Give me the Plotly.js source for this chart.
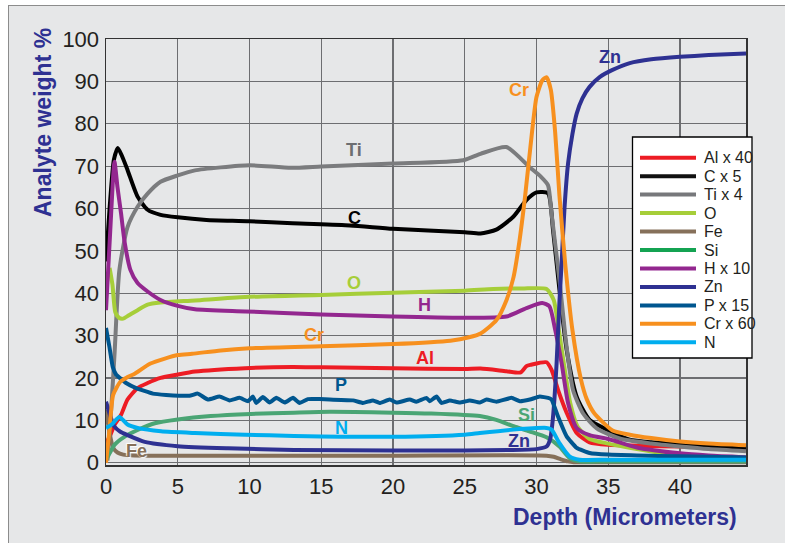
<!DOCTYPE html>
<html><head><meta charset="utf-8">
<script src="https://cdn.plot.ly/plotly-3.0.1.min.js"></script>
<style>
html,body{margin:0;padding:0;background:#fff;width:785px;height:543px;overflow:hidden;}
#frame{position:absolute;left:8px;top:5px;width:800px;height:560px;background:#e6e7e8;border-left:1.5px solid #8c8c8c;border-top:1.5px solid #8c8c8c;}
#chart{position:absolute;left:0;top:0;width:785px;height:543px;}
</style></head><body>
<div id="frame"></div><div id="chart"></div>
<script>
// ---- data (depth in micrometers, analyte weight %) ----
var Al_x = [0, 0.3, 0.6, 1.05, 1.5, 2.2, 2.9, 3.8, 5.0, 6.2, 9.7, 13, 15, 20, 25, 26.1, 27.9, 28.9, 29.3, 29.6, 30.7, 31.05, 31.5, 32.1, 32.8, 33.7, 35, 37, 40, 42, 44.6];
var Al_y = [4.5, 6.5, 9, 11.3, 14.9, 17.6, 18.8, 20, 20.8, 21.5, 22.3, 22.6, 22.5, 22.3, 22.1, 22.2, 21.6, 21.3, 22.8, 23.1, 23.7, 21.9, 17.2, 11.8, 7, 4.8, 4.2, 4.0, 3.8, 3.6, 3.3];

var C_x = [0, 0.25, 0.55, 0.82, 1.1, 1.5, 2.2, 2.9, 3.8, 5.0, 7, 10, 13, 17, 20, 25, 26.1, 27.2, 28.4, 29.3, 30.0, 30.8, 31.15, 31.6, 32.1, 32.8, 33.7, 35.4, 36.5, 38, 40, 42, 44.6];
var C_y = [47.5, 60, 71.5, 74.3, 72.5, 69.1, 62.8, 59.7, 58.5, 57.9, 57.3, 57.0, 56.5, 56.0, 55.2, 54.4, 54.1, 55, 58.1, 62, 63.8, 63.6, 55, 40.8, 26.7, 15.6, 10.1, 7, 5.4, 4.8, 4.4, 4.0, 3.5];

var Ti_x = [0.1, 0.35, 0.6, 0.93, 1.5, 2.2, 2.9, 3.8, 5.0, 6.2, 8, 10, 12.9, 15, 20, 24.9, 26.1, 27.9, 29.5, 30.3, 30.8, 31.05, 31.6, 32.1, 32.55, 33.25, 34.2, 35.8, 38, 40, 42, 44.6];
var Ti_y = [0.5, 12, 26, 45.4, 55.6, 60.4, 63.5, 66.3, 67.8, 69, 69.7, 70.2, 69.6, 69.9, 70.6, 71.4, 72.9, 74.5, 69.8, 67.5, 65.5, 58.8, 43.1, 27.3, 17.1, 11.6, 8.1, 5.7, 4.5, 3.8, 3.2, 2.7];

var O_x = [0.25, 0.45, 0.65, 0.9, 1.2, 1.6, 2.2, 2.9, 3.8, 6.2, 9.7, 15, 20, 25, 27, 29, 30.7, 31.2, 31.55, 31.9, 32.35, 32.85, 33.7, 35, 37, 40, 42, 44.6];
var O_y = [46, 42, 35.5, 34.2, 34.0, 34.8, 36, 37.3, 37.8, 38.3, 39.1, 39.6, 40.1, 40.6, 41.0, 41.1, 41.0, 38.4, 31.4, 23.5, 14.1, 8.6, 5.6, 4.5, 3.2, 1.6, 1.2, 0.9];

var Fe_x = [0, 0.25, 0.5, 0.8, 1.2, 2, 5, 10, 20, 30.7, 31.2, 31.7, 32.2, 32.6, 35, 40, 44.6];
var Fe_y = [12.5, 7, 3.5, 2.4, 1.9, 1.7, 1.65, 1.65, 1.65, 1.65, 1.4, 0.8, 0.3, 0.1, 0.1, 0.1, 0.1];

var Si_x = [0, 0.3, 0.59, 1.28, 2.2, 3.4, 5.0, 7.3, 10.1, 13.1, 15.6, 20, 22.6, 26.05, 27.2, 28.4, 29.5, 30.7, 31.6, 32.3, 33.0, 35, 40, 44.6];
var Si_y = [0.6, 2.5, 4.2, 6.1, 7.7, 9.3, 10.2, 11.0, 11.5, 11.8, 12.0, 11.8, 11.6, 11.0, 10.1, 8.6, 7.4, 6.0, 3.8, 1.1, 0.3, 0.3, 0.3, 0.3];

var H_x = [0, 0.3, 0.59, 0.8, 1.05, 1.3, 1.7, 2.2, 2.9, 3.8, 5.0, 6.2, 9.7, 15, 20, 25, 27.9, 29.3, 30.4, 30.9, 31.3, 31.75, 32.2, 32.8, 33.7, 35, 37, 40, 42, 44.6];
var H_y = [36, 55, 71, 65, 58.8, 52, 45.5, 42.4, 40.4, 38.4, 37, 36.2, 35.7, 35, 34.5, 34.2, 34.5, 36.5, 37.7, 36.9, 31.4, 23.5, 14.1, 8.2, 6.5, 5.6, 3.6, 2.2, 1.7, 1.3];

var Zn_x = [0, 0.3, 0.59, 1.0, 1.5, 2.7, 5.0, 8.5, 13.1, 20, 25, 28, 30, 30.7, 30.95, 31.1, 31.25, 31.4, 31.6, 31.75, 31.95, 32.2, 32.5, 32.8, 33.2, 33.7, 34.4, 35.3, 36.5, 38, 40, 42, 44.6];
var Zn_y = [14.4, 11, 8.5, 7.3, 6.5, 4.9, 3.9, 3.4, 3.0, 2.9, 2.9, 3.0, 3.2, 3.8, 5.5, 9, 15, 23.4, 38, 47.1, 60, 70.6, 77.5, 82.4, 86, 88.7, 91, 92.7, 94.3, 95.2, 95.8, 96.2, 96.6];

var P_x = [0, 0.24, 0.47, 0.7, 1.4, 2.1, 3.26, 4.19, 5.82, 6.4, 7.1, 7.91, 8.61, 9.31, 9.89, 10.23, 10.47, 10.93, 11.4, 11.87, 12.45, 13.03, 13.49, 14.07, 14.89, 15.59, 17.21, 17.91, 18.61, 19.07, 19.77, 20.24, 21.17, 21.63, 22.33, 22.56, 23.03, 23.38, 23.96, 24.65, 25.35, 26.05, 26.52, 27.21, 28.26, 28.84, 29.54, 30.23, 30.81, 31.05, 31.5, 32.1, 32.8, 33.7, 35, 37, 40, 42, 44.6];
var P_y = [31.8, 27.3, 22.6, 20.8, 18.8, 17.6, 16.3, 16.0, 15.8, 16.3, 14.9, 15.6, 14.7, 15.3, 14.5, 15.6, 14.1, 15.5, 14.2, 15.3, 14.2, 15.3, 14.1, 15.0, 15.0, 14.9, 14.7, 14.1, 14.7, 14.1, 14.9, 14.2, 14.9, 14.4, 15.3, 14.5, 15.6, 14.1, 14.7, 14.2, 14.7, 14.2, 14.9, 14.4, 15.3, 14.5, 14.9, 15.6, 15.3, 14.9, 10.9, 6.2, 3.5, 2.3, 1.9, 1.7, 1.5, 1.4, 1.2];

var Cr_x = [0, 0.25, 0.5, 1.0, 1.5, 2.0, 3.1, 5, 6, 8, 10, 15, 20, 24, 25.3, 26.1, 27.2, 27.9, 28.4, 28.8, 29.2, 29.7, 30.0, 30.4, 30.7, 31.0, 31.3, 31.6, 32.0, 32.5, 33.1, 33.5, 34.0, 35.3, 36.5, 38, 40, 42, 44.6];
var Cr_y = [0, 8, 16, 19.1, 20.2, 21, 23.4, 25.4, 25.7, 26.5, 27, 27.5, 28, 28.8, 29.6, 30.5, 33.6, 38.3, 43.8, 52, 62.7, 78.4, 86.3, 90.2, 91, 88, 78, 63, 47, 31.4, 19.6, 15, 11.8, 7.6, 6.6, 5.8, 5.0, 4.5, 4.1];

var N_x = [0, 0.4, 0.93, 1.5, 2.2, 3.84, 6.2, 9.7, 13.1, 15, 20, 25, 26.05, 28.4, 30.7, 31.05, 31.6, 32.3, 33.0, 35, 40, 44.6];
var N_y = [8.2, 9, 10.8, 9.0, 8.2, 7.4, 7.0, 6.6, 6.3, 6.2, 6.1, 6.6, 7.0, 7.8, 8.2, 7.8, 4.6, 1.5, 0.7, 0.7, 0.7, 0.7];

var seriesNames = ["Al x 40", "C x 5", "Ti x 4", "O", "Fe", "Si", "H x 10", "Zn", "P x 15", "Cr x 60", "N"];
var seriesX = [Al_x, C_x, Ti_x, O_x, Fe_x, Si_x, H_x, Zn_x, P_x, Cr_x, N_x];
var seriesY = [Al_y, C_y, Ti_y, O_y, Fe_y, Si_y, H_y, Zn_y, P_y, Cr_y, N_y];
var lineColors = ["#ed1c24", "#000000", "#7b7c7e", "#a6ce39", "#86705a", "#4aa574", "#93278f", "#2e3192", "#00568f", "#f7901e", "#00aeef"];
var legendColors = ["#ed1c24", "#111111", "#77787b", "#a6ce39", "#86705a", "#14a352", "#93278f", "#2e3192", "#00568f", "#f7901e", "#00aeef"];
var lineSmoothing = [0.6, 0.6, 0.6, 0.6, 0.6, 0.6, 0.6, 0.6, 0.35, 0.6, 0.6];

// in-plot labels
var labelText = ["Zn", "Cr", "Ti", "C", "O", "H", "Cr", "Al", "P", "N", "Si", "Zn", "Fe"];
var labelX = [35.1, 28.8, 17.3, 17.3, 17.3, 22.2, 14.5, 22.2, 16.4, 16.4, 29.3, 28.8, 2.1];
var labelY = [95.7, 87.9, 73.7, 57.7, 42.4, 37.2, 30.1, 24.7, 18.3, 8.2, 11.2, 5.1, 2.7];
var labelColor = ["#2e3192", "#f7901e", "#6d6e71", "#000000", "#a6ce39", "#93278f", "#f7901e", "#ed1c24", "#00568f", "#00aeef", "#4aa574", "#2e3192", "#86705a"];

var xTicks = [0, 5, 10, 15, 20, 25, 30, 35, 40];
var yTicks = [0, 10, 20, 30, 40, 50, 60, 70, 80, 90, 100];

// ---- build ----
var traces = [];
for (var i = 0; i < seriesNames.length; i++) {
  traces.push({
    type: "scatter", mode: "lines", name: seriesNames[i],
    x: seriesX[i], y: seriesY[i],
    line: {color: lineColors[i], width: 4, shape: "spline", smoothing: lineSmoothing[i]},
    hoverinfo: "x+y+name"
  });
}

var FONT = "Liberation Sans, Arial, Helvetica, sans-serif";
var W = 785, H = 543, ML = 106, MR = 39, MT = 39, MB = 78;
var PW = W - ML - MR, PH = H - MT - MB;
function px2x(p) { return (p - ML) / PW; }
function py2y(p) { return (H - MB - p) / PH; }

var annotations = [];
for (var j = 0; j < labelText.length; j++) {
  var f = {family: FONT, size: 18, color: labelColor[j], weight: "bold"};
  if (labelText[j] === "Fe") f.shadow = "1px 1px 1px #ffffff, -1px -1px 1px #ffffff";
  annotations.push({x: labelX[j], y: labelY[j], xref: "x", yref: "y", text: labelText[j],
    showarrow: false, font: f, xanchor: "center", yanchor: "middle"});
}
// axis titles
annotations.push({xref: "paper", yref: "paper", x: px2x(43), y: py2y(123), text: "Analyte weight %",
  textangle: -90, showarrow: false, xanchor: "center", yanchor: "middle",
  font: {family: FONT, size: 23, color: "#2e3192", weight: "bold"}});
annotations.push({xref: "paper", yref: "paper", x: px2x(625), y: py2y(517), text: "Depth (Micrometers)",
  showarrow: false, xanchor: "center", yanchor: "middle",
  font: {family: FONT, size: 23, color: "#2e3192", weight: "bold"}});

// custom legend
var shapes = [];
var LX0 = 632.5, LX1 = 752, LY0 = 137, LY1 = 358, ITEM0 = 157.7, STEP = 18.46;
shapes.push({type: "rect", xref: "paper", yref: "paper", x0: px2x(LX0), x1: px2x(LX1), y0: py2y(LY0), y1: py2y(LY1),
  fillcolor: "#ffffff", line: {color: "#000000", width: 1.3}, layer: "above"});
for (var k = 0; k < seriesNames.length; k++) {
  var cy = ITEM0 + k * STEP;
  shapes.push({type: "line", xref: "paper", yref: "paper", x0: px2x(640), x1: px2x(696), y0: py2y(cy), y1: py2y(cy),
    line: {color: legendColors[k], width: 4}, layer: "above"});
  annotations.push({xref: "paper", yref: "paper", x: px2x(702), y: py2y(cy), text: seriesNames[k],
    showarrow: false, xanchor: "left", yanchor: "middle",
    font: {family: FONT, size: 16, color: "#231f20"}});
}

var axisCommon = {
  showgrid: true, gridcolor: "#6d6e71", gridwidth: 1.2,
  showline: true, linecolor: "#333333", linewidth: 1.5, mirror: true,
  zeroline: false, ticks: "",
  tickfont: {family: FONT, size: 22, color: "#231f20"}
};
var layout = {
  width: W, height: H,
  margin: {l: ML, r: MR, t: MT, b: MB, pad: 0},
  paper_bgcolor: "rgba(0,0,0,0)", plot_bgcolor: "#e6e7e8",
  showlegend: false,
  xaxis: Object.assign({}, axisCommon, {range: [0, 44.6], tickvals: xTicks, ticklabelstandoff: 1}),
  yaxis: Object.assign({}, axisCommon, {range: [-0.55, 100], tickvals: yTicks, ticklabelstandoff: 1}),
  annotations: annotations, shapes: shapes
};
Plotly.newPlot("chart", traces, layout, {displayModeBar: false, staticPlot: true});
</script>
</body></html>
